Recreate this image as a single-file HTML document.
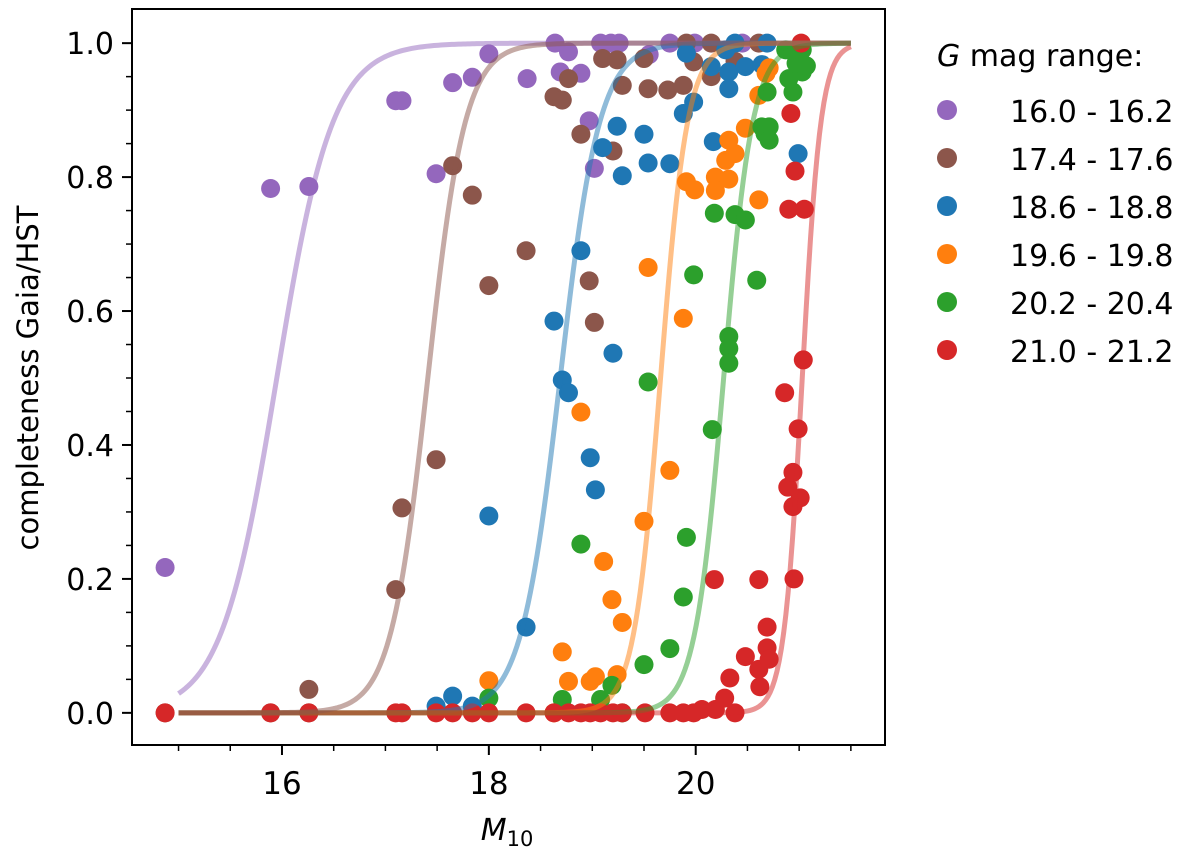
<!DOCTYPE html>
<html><head><meta charset="utf-8"><style>
html,body{margin:0;padding:0;background:#fff;}
svg{display:block;font-family:"DejaVu Sans","Liberation Sans",sans-serif;}
</style></head><body>
<svg id="chart" width="1200" height="852" viewBox="0 0 1200 852" xmlns="http://www.w3.org/2000/svg">
<g id="marks"></g>
<g id="axes"></g>
<text x="38" y="378" font-size="29" text-anchor="middle" transform="rotate(-90 38 378)">completeness Gaia/HST</text>
<text x="507" y="840" font-size="30" text-anchor="middle"><tspan font-style="italic">M</tspan><tspan font-size="21" dy="6">10</tspan></text>
<g id="legend">
<text x="937" y="66" font-size="30"><tspan font-style="italic">G</tspan> mag range:</text>
</g>
</svg>
<script>
const NS="http://www.w3.org/2000/svg";
const seriesNames=["16.0 - 16.2","17.4 - 17.6","18.6 - 18.8","19.6 - 19.8","20.2 - 20.4","21.0 - 21.2"];
const seriesColors=["#9467bd","#8c564b","#1f77b4","#ff7f0e","#2ca02c","#d62728"];
const curveCenters=[15.95,17.41,18.69,19.66,20.27,21.03];
const curveWidths=[0.27,0.18,0.19,0.13,0.14,0.09];
const xTicks=[16,18,20];
const yTicks=[0,0.2,0.4,0.6,0.8,1.0];
const purpleX=[14.87,15.89,16.26,17.10,17.16,17.49,17.65,17.84,18.00,18.64,18.77,18.37,18.69,18.89,18.97,19.02,19.08,19.18,19.26,19.55,19.75,19.99,20.45];
const purpleY=[0.217,0.783,0.786,0.914,0.914,0.805,0.941,0.949,0.984,1.0,0.987,0.947,0.957,0.955,0.884,0.813,1.0,1.0,1.0,0.983,1.0,1.0,1.0];
const brownX=[14.87,15.89,16.26,16.26,17.10,17.16,17.49,17.65,17.84,18.00,18.36,18.97,19.02,18.89,19.20,18.63,18.71,18.77,19.10,19.24,19.29,19.50,19.54,19.73,19.88,19.98,19.91,20.15,20.61,20.15,20.38];
const brownY=[0,0,0,0.035,0.184,0.306,0.378,0.817,0.773,0.638,0.69,0.645,0.583,0.864,0.839,0.92,0.915,0.947,0.977,0.975,0.937,0.977,0.932,0.93,0.937,0.972,1.0,1.0,1.0,0.95,0.973];
const blueX=[17.49,17.65,17.84,18.00,18.36,18.63,18.71,18.77,18.89,18.98,19.03,19.20,19.24,19.50,19.10,19.29,19.54,19.75,19.88,19.98,20.17,19.91,20.15,20.32,20.38,20.69,20.32,20.48,20.64,20.99,20.29];
const blueY=[0.01,0.025,0.01,0.294,0.128,0.585,0.497,0.478,0.69,0.381,0.333,0.537,0.876,0.864,0.844,0.802,0.821,0.82,0.895,0.912,0.853,0.985,0.965,0.957,1.0,1.0,0.932,0.965,0.968,0.835,0.99];
const orangeX=[18.00,18.63,18.71,18.77,18.98,19.03,19.24,18.89,19.11,19.19,19.29,19.50,19.54,19.75,19.88,19.91,19.99,20.19,20.32,20.19,20.29,20.38,20.32,20.48,20.61,20.61,20.68,20.71];
const orangeY=[0.048,0.0,0.091,0.047,0.047,0.054,0.057,0.449,0.226,0.169,0.135,0.286,0.665,0.362,0.589,0.793,0.781,0.80,0.797,0.78,0.825,0.835,0.855,0.873,0.766,0.922,0.955,0.963];
const greenX=[18.00,18.71,19.08,19.19,19.29,18.89,19.50,19.54,19.75,19.88,19.91,19.98,20.16,20.18,20.32,20.32,20.32,20.38,20.48,20.59,20.64,20.71,20.67,20.71,20.69,20.94,20.90,21.03,20.97,20.87,21.03,21.07];
const greenY=[0.022,0.02,0.02,0.041,0.0,0.252,0.072,0.494,0.096,0.173,0.262,0.654,0.423,0.746,0.562,0.544,0.522,0.744,0.736,0.646,0.875,0.875,0.865,0.855,0.927,0.927,0.947,0.957,0.97,0.99,0.99,0.966];
const redX=[14.87,15.89,16.26,17.10,17.16,17.49,17.65,17.84,18.00,18.36,18.63,18.77,18.89,18.98,19.08,19.20,19.29,19.51,19.75,19.88,19.98,20.06,20.19,20.38,20.28,20.33,20.48,20.61,20.62,20.69,20.69,20.71,20.18,20.61,20.95,20.89,21.01,20.94,20.94,20.99,20.86,21.04,20.90,21.05,20.96,20.92,21.02];
const redY=[0,0,0,0,0,0,0,0,0,0,0,0,0,0,0,0,0,0,0,0,0,0.005,0.005,0,0.022,0.052,0.084,0.065,0.039,0.128,0.097,0.08,0.199,0.199,0.20,0.337,0.321,0.308,0.359,0.424,0.478,0.527,0.752,0.752,0.809,0.895,1.0];
const seriesX=[purpleX,brownX,blueX,orangeX,greenX,redX];
const seriesY=[purpleY,brownY,blueY,orangeY,greenY,redY];

const L=132,R=885,T=9,B=745;
const xMin=14.55,xMax=21.83,yMin=-0.048,yMax=1.051;
function sx(v){return L+(v-xMin)/(xMax-xMin)*(R-L);}
function sy(v){return B-(v-yMin)/(yMax-yMin)*(B-T);}
function mk(tag,attrs,parent){const e=document.createElementNS(NS,tag);for(const k in attrs)e.setAttribute(k,attrs[k]);parent.appendChild(e);return e;}
const marks=document.getElementById('marks'),axes=document.getElementById('axes'),legend=document.getElementById('legend');

for(let s=0;s<seriesX.length;s++){
  const g=mk('g',{},marks);
  
  
  for(let i=0;i<seriesX[s].length;i++){
    const c=mk('circle',{cx:sx(seriesX[s][i]),cy:sy(seriesY[s][i]),r:9.5,fill:seriesColors[s]},g);
    
    
  }
}
const curveOrder=[0,2,3,4,5,1];
for(const s of curveOrder){
  let d='';
  for(let k=0;k<=300;k++){
    const x=15+6.5*k/300;
    const y=1/(1+Math.exp(-(x-curveCenters[s])/curveWidths[s]));
    d+=(k?'L':'M')+sx(x).toFixed(2)+','+sy(y).toFixed(2);
  }
  const p=mk('path',{d:d,fill:'none',stroke:seriesColors[s],'stroke-width':5,'stroke-opacity':0.5},marks);
  
  
}
const frame=mk('rect',{x:L,y:T,width:R-L,height:B-T,fill:'none',stroke:'#000','stroke-width':2},axes);


for(let v=15;v<=21.5;v+=0.5){
  const big=xTicks.indexOf(v)>=0;
  const t=mk('line',{x1:sx(v),x2:sx(v),y1:B,y2:B+(big?10:6),stroke:'#000','stroke-width':big?2:1.5},axes);
  
  
}
for(const v of xTicks){
  const t=mk('text',{x:sx(v),y:B+49,'font-size':31,'text-anchor':'middle'},axes);
  t.textContent=String(v);
  
  
}
for(let k=0;k<=20;k++){
  const v=k*0.05;const big=k%4===0;
  const t=mk('line',{x1:L,x2:L-(big?10:6),y1:sy(v),y2:sy(v),stroke:'#000','stroke-width':big?2:1.5},axes);
  
  
}
for(const v of yTicks){
  const t=mk('text',{x:L-18,y:sy(v)+11,'font-size':30,'text-anchor':'end'},axes);
  t.textContent=v.toFixed(1);
  
  
}
for(let s=0;s<seriesNames.length;s++){
  const y=110+48*s;
  const c=mk('circle',{cx:947,cy:y,r:10,fill:seriesColors[s]},legend);
  
  
  const t=mk('text',{x:1010,y:y+12,'font-size':30},legend);
  t.textContent=seriesNames[s];
  
  
}
</script>
</body></html>
